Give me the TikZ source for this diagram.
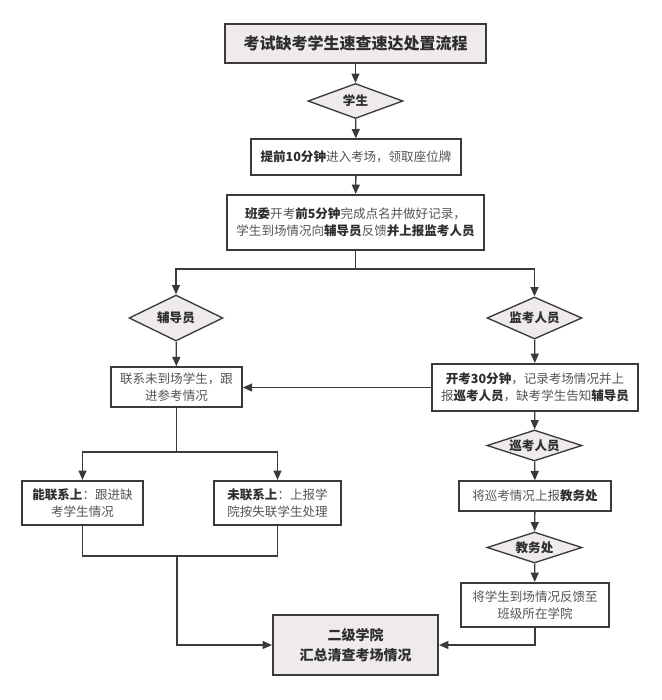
\documentclass[tikz,border=0pt]{standalone}
\usepackage{fontspec}
\setmainfont{Noto Sans CJK SC}
\usetikzlibrary{shapes.geometric,arrows.meta}
\definecolor{linec}{HTML}{3A3A3A}
\definecolor{fillc}{HTML}{EEEBEA}
\definecolor{textn}{HTML}{555555}
\definecolor{textd}{HTML}{2E2E2E}
\newcommand\bt[1]{{\bfseries\color{textd}#1}}
\tikzset{
  wh/.style 2 args={minimum width=#1*0.75pt, minimum height=#2*0.75pt},
  base/.style={draw=linec, inner sep=0pt, align=center, text=textn,
    font=\fontsize{9.4}{13}\selectfont},
  boxthin/.style={base, line width=1pt},
  boxthick/.style={base, line width=1.6pt},
  graybox/.style={boxthick, fill=fillc, text=textd, font=\fontsize{10.5}{15}\selectfont\bfseries},
  dia/.style={base, diamond, aspect=3, fill=fillc, line width=1pt, text=textd,
    font=\fontsize{9.4}{13}\selectfont\bfseries},
  arr/.style={draw=linec, line width=1pt, -{Triangle[length=7pt,width=6pt]}},
  ln/.style={draw=linec, line width=1pt},
}
\begin{document}
\begin{tikzpicture}[x=0.75pt,y=-0.75pt]
\path[use as bounding box, fill=white] (0,0) rectangle (661,700);

\node[graybox, wh={261}{39}, font=\fontsize{12}{15}\selectfont\bfseries] (title) at (355.5,43.5) {考试缺考学生速查速达处置流程};
\node[dia, wh={95}{35}] (d1) at (355.5,101) {学生};
\node[boxthin, wh={210}{36}] (b2) at (356,157) {\bt{提前10分钟}进入考场，领取座位牌};
\node[boxthick, wh={257}{55}] (b3) at (355.5,222.5) {\bt{班委}开考\bt{前5分钟}完成点名并做好记录，\\学生到场情况向\bt{辅导员}反馈\bt{并上报监考人员}};
\coordinate (s1) at (355.5,269);

\node[dia, wh={94}{46}] (d2) at (176,318) {辅导员};
\node[dia, wh={95}{42}] (d3) at (534.5,318) {监考人员};

\node[boxthin, wh={131}{40}, line width=1.2pt] (b4) at (176.5,387) {联系未到场学生，跟\\进参考情况};
\node[boxthick, wh={206}{47}] (b5) at (535,387.5) {\bt{开考30分钟}，记录考场情况并上\\报\bt{巡考人员}，缺考学生告知\bt{辅导员}};

\coordinate (s2) at (176.5,452);
\node[boxthick, wh={121}{44}] (b6) at (82.5,503) {\bt{能联系上}：跟进缺\\考学生情况};
\node[boxthick, wh={127}{44}] (b7) at (277.5,503) {\bt{未联系上}：上报学\\院按失联学生处理};
\coordinate (j1) at (177,556);

\node[dia, wh={95}{31}] (d4) at (534.5,445.5) {巡考人员};
\node[boxthin, wh={152}{30}] (b8) at (535,496) {将巡考情况上报\bt{教务处}};
\node[dia, wh={95}{31}] (d5) at (534.5,547.5) {教务处};
\node[boxthick, wh={148}{44}] (b9) at (535,605) {将学生到场情况反馈至\\班级所在学院};

\node[graybox, wh={165}{60}] (fin) at (355.5,645) {二级学院\\汇总清查考场情况};

\draw[arr] (title) -- (d1);
\draw[arr] (d1) -- (b2);
\draw[arr] (b2) -- (b3);
\draw[ln] (b3.south) -- (s1);
\draw[arr] (s1) -| (d2.north);
\draw[arr] (s1) -| (d3.north);
\draw[arr] (d2) -- (b4);
\draw[arr] (d3) -- (b5);
\draw[arr] (b5.west) -- (b5.west -| b4.east);
\draw[ln] (b4.south) -- (s2);
\draw[arr] (s2) -| (b6.north);
\draw[arr] (s2) -| (b7.north);
\draw[ln] (b6.south) |- (j1) -| (b7.south);
\draw[arr] (j1) |- (fin.west);
\draw[arr] (b5) -- (d4);
\draw[arr] (d4) -- (b8);
\draw[arr] (b8) -- (d5);
\draw[arr] (d5) -- (b9);
\draw[arr] (b9.south) |- (fin.east);
\end{tikzpicture}
\end{document}
